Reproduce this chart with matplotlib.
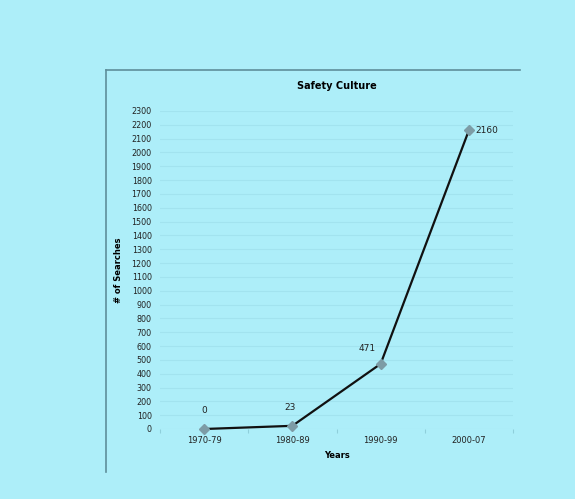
import numpy as np
import matplotlib.pyplot as plt
from matplotlib.lines import Line2D

plt.rcParams['font.family'] = ['DejaVu Sans']

years = ["1970-79", "1980-89", "1990-99", "2000-07"]
searches = [0, 23, 471, 2160]
yticks = list(range(0, 2400, 100))

bg = "#adeef9"

fig = plt.figure(figsize=(5.75, 4.99), dpi=100, facecolor=bg)
ax = fig.add_axes([160/575, 1-429/499, (513-160)/575, (429-111)/499], facecolor=bg)

x = np.arange(len(years))
ax.plot(x, searches, color="#111111", lw=1.6, zorder=3, clip_on=False)
ax.plot(x, searches, ls="none", marker="D", ms=5, color="#7d9ca6", zorder=4, clip_on=False)

# point labels
ax.annotate(str(searches[0]), (x[0], searches[0]), xytext=(0, 10), textcoords="offset points",
            ha="center", va="bottom", fontsize=6.5, color="#222222")
ax.annotate(str(searches[1]), (x[1], searches[1]), xytext=(-2, 10), textcoords="offset points",
            ha="center", va="bottom", fontsize=6.5, color="#222222")
ax.annotate(str(searches[2]), (x[2], searches[2]), xytext=(-10, 8), textcoords="offset points",
            ha="center", va="bottom", fontsize=6.5, color="#222222")
ax.annotate(str(searches[3]), (x[3], searches[3]), xytext=(5, 0), textcoords="offset points",
            ha="left", va="center", fontsize=6.5, color="#222222")

ax.set_xlim(-0.5, 3.5)
ax.set_ylim(0, 2300)
ax.set_yticks(yticks)
ax.set_yticklabels([str(v) for v in yticks], fontsize=5.8, color="#222222")
ax.set_xticks(x)
ax.set_xticklabels(years, fontsize=6, color="#222222")
ax.set_xticks(np.arange(-0.5, 4, 1), minor=True)
ax.tick_params(axis="y", length=0, pad=6)
ax.tick_params(axis="x", which="major", length=0, pad=5)
ax.tick_params(axis="x", which="minor", length=3, color="#8fcfdb", width=0.8)
for s in ax.spines.values():
    s.set_visible(False)
ax.set_axisbelow(True)
ax.yaxis.grid(True, color="#a2e3ef", lw=0.8)

ax.set_title("Safety Culture", fontsize=7, fontweight="bold", pad=16)
ax.set_ylabel("# of Searches", fontsize=6, fontweight="bold", labelpad=6)
ax.set_xlabel("Years", fontsize=6, fontweight="bold", labelpad=4)

# outer frame lines
fig.add_artist(Line2D([106/575, 520/575], [1-70/499, 1-70/499], color="#5e8f9b", lw=1.2))
fig.add_artist(Line2D([106/575, 106/575], [1-70/499, 1-472/499], color="#5e8f9b", lw=1.2))

fig.savefig("out.png", dpi=100, facecolor=bg)
